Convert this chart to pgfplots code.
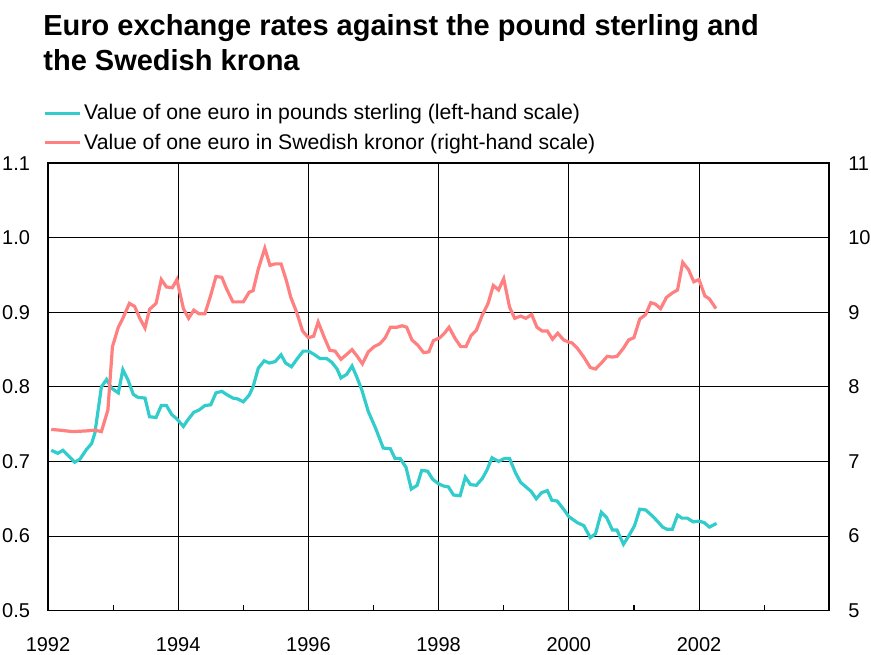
\documentclass[border=0pt]{standalone}
\usepackage{fontspec}
\setmainfont{Liberation Sans}
\usepackage{pgfplots}
\pgfplotsset{compat=1.18}
\usepackage{pgfplotstable}
\definecolor{gbp}{RGB}{51,204,204}
\definecolor{sek}{RGB}{255,128,128}

\pgfplotstableread{
x y
1992.05 0.715
1992.15 0.711
1992.23 0.715
1992.41 0.699
1992.49 0.703
1992.59 0.716
1992.67 0.724
1992.72 0.738
1992.82 0.800
1992.90 0.810
1992.98 0.798
1993.08 0.792
1993.15 0.823
1993.23 0.809
1993.31 0.790
1993.38 0.786
1993.49 0.785
1993.56 0.760
1993.66 0.759
1993.74 0.775
1993.82 0.775
1993.90 0.763
1993.98 0.757
1994.08 0.747
1994.15 0.756
1994.24 0.766
1994.32 0.769
1994.41 0.775
1994.50 0.776
1994.58 0.792
1994.67 0.794
1994.74 0.790
1994.84 0.785
1994.91 0.784
1995.00 0.780
1995.09 0.789
1995.15 0.800
1995.23 0.825
1995.32 0.835
1995.40 0.832
1995.49 0.834
1995.58 0.843
1995.65 0.832
1995.74 0.827
1995.83 0.838
1995.92 0.848
1996.00 0.848
1996.08 0.844
1996.18 0.838
1996.28 0.838
1996.36 0.833
1996.44 0.824
1996.50 0.812
1996.59 0.817
1996.67 0.828
1996.74 0.814
1996.82 0.796
1996.92 0.767
1997.03 0.745
1997.15 0.718
1997.26 0.717
1997.33 0.704
1997.41 0.704
1997.50 0.692
1997.58 0.663
1997.67 0.668
1997.74 0.688
1997.83 0.687
1997.91 0.676
1998.00 0.670
1998.08 0.667
1998.15 0.666
1998.23 0.655
1998.33 0.654
1998.41 0.679
1998.49 0.669
1998.58 0.668
1998.67 0.677
1998.74 0.688
1998.82 0.705
1998.92 0.700
1999.01 0.704
1999.09 0.704
1999.18 0.685
1999.26 0.672
1999.34 0.666
1999.42 0.660
1999.50 0.650
1999.58 0.658
1999.67 0.661
1999.74 0.648
1999.82 0.647
1999.92 0.636
2000.00 0.626
2000.05 0.623
2000.13 0.618
2000.23 0.614
2000.33 0.598
2000.41 0.603
2000.50 0.632
2000.58 0.625
2000.67 0.608
2000.74 0.608
2000.84 0.589
2000.92 0.600
2001.01 0.614
2001.09 0.636
2001.18 0.635
2001.27 0.628
2001.36 0.620
2001.44 0.612
2001.51 0.609
2001.59 0.609
2001.67 0.628
2001.74 0.624
2001.82 0.624
2001.91 0.619
2002.00 0.620
2002.08 0.618
2002.16 0.612
2002.27 0.617
}\gbpdata

\pgfplotstableread{
x y
1992.05 7.43
1992.18 7.42
1992.38 7.40
1992.59 7.41
1992.72 7.42
1992.82 7.40
1992.92 7.69
1992.99 8.54
1993.08 8.80
1993.15 8.92
1993.25 9.12
1993.33 9.08
1993.41 8.92
1993.49 8.79
1993.56 9.04
1993.66 9.12
1993.74 9.44
1993.82 9.34
1993.91 9.33
1993.98 9.44
1994.08 9.05
1994.16 8.92
1994.24 9.03
1994.32 8.98
1994.41 8.98
1994.50 9.23
1994.58 9.48
1994.67 9.47
1994.74 9.32
1994.84 9.14
1994.92 9.14
1995.00 9.14
1995.09 9.27
1995.15 9.29
1995.23 9.58
1995.33 9.86
1995.41 9.63
1995.49 9.65
1995.58 9.65
1995.66 9.43
1995.73 9.20
1995.82 9.00
1995.91 8.75
1996.00 8.66
1996.08 8.68
1996.15 8.87
1996.26 8.63
1996.33 8.49
1996.41 8.48
1996.50 8.37
1996.58 8.43
1996.67 8.50
1996.75 8.41
1996.83 8.31
1996.92 8.47
1997.01 8.54
1997.10 8.58
1997.18 8.66
1997.26 8.80
1997.36 8.80
1997.44 8.82
1997.51 8.80
1997.59 8.63
1997.68 8.56
1997.77 8.46
1997.85 8.47
1997.92 8.62
1998.02 8.66
1998.09 8.72
1998.16 8.80
1998.26 8.64
1998.34 8.54
1998.42 8.54
1998.50 8.69
1998.58 8.76
1998.67 8.96
1998.76 9.12
1998.84 9.36
1998.92 9.30
1999.00 9.45
1999.09 9.07
1999.17 8.92
1999.26 8.95
1999.34 8.92
1999.43 8.97
1999.51 8.80
1999.59 8.75
1999.67 8.75
1999.75 8.64
1999.83 8.72
1999.92 8.63
2000.00 8.60
2000.05 8.59
2000.13 8.52
2000.23 8.40
2000.33 8.26
2000.41 8.24
2000.50 8.32
2000.59 8.41
2000.67 8.40
2000.74 8.41
2000.84 8.52
2000.92 8.63
2001.00 8.66
2001.09 8.91
2001.18 8.97
2001.26 9.13
2001.33 9.11
2001.41 9.05
2001.50 9.20
2001.59 9.26
2001.67 9.30
2001.75 9.67
2001.84 9.57
2001.92 9.41
2002.00 9.44
2002.09 9.22
2002.16 9.18
2002.26 9.05
}\sekdata

\begin{document}
\begin{tikzpicture}
\useasboundingbox (-24pt,-21.7pt) rectangle (411.5pt,305.3pt);
\pgfplotsset{
  common/.style={
    at={(0,0)}, anchor=south west,
    scale only axis, width=390.6pt, height=223.7pt,
    xmin=1992, xmax=2004,
    axis line style={black, line width=0.8pt},
    tick label style={font=\fontsize{10}{12}\selectfont},
    /pgf/number format/assume math mode=true,
  }
}
\begin{axis}[common,
  xtick={1992,1994,1996,1998,2000,2002},
  xticklabels={1992,1994,1996,1998,2000,2002},
  minor xtick={1993,1995,1997,1999,2001,2003},
  xtick pos=left, tick align=inside,
  major tick length=0pt, minor tick length=2.8pt,
  minor tick style={black, line width=0.6pt},
  xticklabel style={yshift=-10pt},
  ymin=0.5, ymax=1.1,
  ytick={0.5,0.6,0.7,0.8,0.9,1.0,1.1},
  yticklabel style={xshift=-5.5pt, /pgf/number format/.cd, fixed, fixed zerofill, precision=1},
  ytick style={draw=none},
  grid=major, major grid style={black, line width=0.5pt},
  legend cell align=left,
  legend style={at={(-0.0069,1.1375)}, anchor=north west, draw=none, fill=none,
    inner sep=0pt, row sep=3pt, font=\fontsize{10.6}{12}\selectfont,
    nodes={inner sep=1.2pt}},
  legend image code/.code={\draw[#1] (0pt,0pt) -- (17.8pt,0pt);},
]
\addplot[gbp, line width=1.6pt] table[x=x,y=y] {\gbpdata};
\addlegendentry{Value of one euro in pounds sterling (left-hand scale)}
\addlegendimage{sek, line width=1.6pt}
\addlegendentry{Value of one euro in Swedish kronor (right-hand scale)}
\end{axis}
\begin{axis}[common,
  axis x line=none, axis y line*=right,
  ymin=5, ymax=11, ytick={5,6,7,8,9,10,11},
  ytick style={draw=none},
  yticklabel style={xshift=6pt},
]
\addplot[sek, line width=1.6pt] table[x=x,y=y] {\sekdata};
\end{axis}
\node[anchor=base west, inner sep=0pt, font=\bfseries\fontsize{14.5}{17.5}\selectfont] at (-2.5pt,287.3pt) {Euro exchange rates against the pound sterling and};
\node[anchor=base west, inner sep=0pt, font=\bfseries\fontsize{14.5}{17.5}\selectfont] at (-2.5pt,269.8pt) {the Swedish krona};
\end{tikzpicture}
\end{document}
